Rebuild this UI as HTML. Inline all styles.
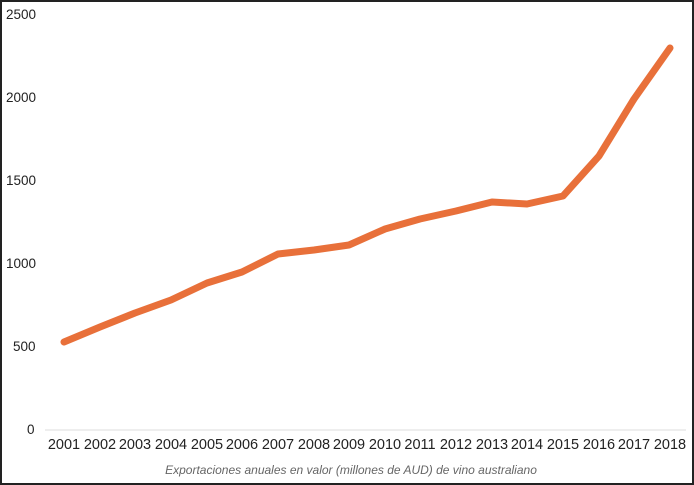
<!DOCTYPE html>
<html><head><meta charset="utf-8"><style>
html,body{margin:0;padding:0;background:#fff}
svg{display:block}
</style></head><body>
<svg width="694" height="485" viewBox="0 0 694 485" font-family="Liberation Sans, Arial, sans-serif">
<rect x="1" y="1" width="692" height="483" fill="#fff" stroke="#222" stroke-width="2"/>
<g font-size="13.5" fill="#222">
<text x="6" y="19">2500</text>
<text x="6" y="102">2000</text>
<text x="6" y="185">1500</text>
<text x="6" y="268">1000</text>
<text x="13" y="351">500</text>
<text x="27" y="434">0</text>
</g>
<line x1="45" y1="430" x2="686" y2="430" stroke="#ddd" stroke-width="1"/>
<g font-size="14.5" fill="#222" text-anchor="middle">
<text x="64" y="449">2001</text><text x="100" y="449">2002</text><text x="135" y="449">2003</text><text x="171" y="449">2004</text><text x="207" y="449">2005</text><text x="242" y="449">2006</text><text x="278" y="449">2007</text><text x="314" y="449">2008</text><text x="349" y="449">2009</text><text x="385" y="449">2010</text><text x="420" y="449">2011</text><text x="456" y="449">2012</text><text x="492" y="449">2013</text><text x="527" y="449">2014</text><text x="563" y="449">2015</text><text x="599" y="449">2016</text><text x="634" y="449">2017</text><text x="670" y="449">2018</text>
</g>
<text x="351" y="474" font-size="12" font-style="italic" fill="#666" text-anchor="middle">Exportaciones anuales en valor (millones de AUD) de vino australiano</text>
<polyline fill="none" stroke="#e8703a" stroke-width="7" stroke-linejoin="round" stroke-linecap="round"
points="64,342 100,327 135,313 171,300 207,283 242,272 278,254 314,250 349,245 385,229 420,219 456,211 492,202 527,204 563,196 599,156 634,99 670,48"/>
</svg>
</body></html>
